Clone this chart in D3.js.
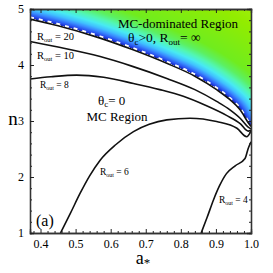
<!DOCTYPE html>
<html>
<head>
<meta charset="utf-8">
<script src="https://cdn.jsdelivr.net/npm/d3@7"></script>
<style>
  body { margin: 0; background: #fff; }
  text { font-family: "Liberation Serif", "Times New Roman", serif; fill: #000; }
</style>
</head>
<body>
<div id="chart"></div>
<script>
// curves: [a*, n]
const rout20 = [[0.37, 4.82], [0.45, 4.70], [0.57, 4.48], [0.66, 4.28], [0.76, 4.03], [0.84, 3.80], [0.902, 3.56], [0.94, 3.38], [0.969, 3.20], [0.992, 2.97], [1.0, 2.90]];
const rout10 = [[0.37, 4.42], [0.45, 4.32], [0.57, 4.15], [0.66, 3.98], [0.76, 3.76], [0.84, 3.56], [0.902, 3.35], [0.94, 3.20], [0.969, 3.05], [0.992, 2.89], [1.0, 2.86]];
const rout8 = [[0.37, 3.75], [0.43, 3.79], [0.503, 3.82], [0.58, 3.78], [0.665, 3.67], [0.74, 3.56], [0.807, 3.44], [0.87, 3.28], [0.93, 3.10], [0.97, 2.95], [0.992, 2.82], [1.0, 2.84]];
const rout6 = [[0.457, 1.0], [0.485, 1.35], [0.513, 1.71], [0.54, 2.02], [0.57, 2.30], [0.615, 2.58], [0.665, 2.81], [0.71, 2.94], [0.76, 3.02], [0.826, 3.05], [0.902, 2.99], [0.96, 2.87], [0.988, 2.72], [1.0, 2.82]];
const rout4 = [[0.858, 1.0], [0.875, 1.28], [0.893, 1.59], [0.91, 1.84], [0.93, 2.06], [0.955, 2.20], [0.983, 2.33], [0.992, 2.51], [1.0, 2.63]];

const xTicks = [0.4, 0.5, 0.6, 0.7, 0.8, 0.9, 1.0];
const yTicks = [1, 2, 3, 4, 5];

const W = 273, H = 273;
const margin = { top: 9, right: 22, bottom: 40, left: 30 };

const x = d3.scaleLinear().domain([0.37, 1.0]).range([margin.left, W - margin.right]);
const y = d3.scaleLinear().domain([1, 5]).range([H - margin.bottom, margin.top]);

const svg = d3.select("#chart").append("svg")
    .attr("width", W).attr("height", H);

const line = d3.line()
    .x(d => x(d[0]))
    .y(d => y(d[1]))
    .curve(d3.curveMonotoneX);

// sample the boundary curve (Rout = 20) to build the colour field above it
const probe = svg.append("path").attr("d", line(rout20)).attr("fill", "none");
const node = probe.node();
const len = node.getTotalLength();
const samples = [];
for (let i = 0; i <= 400; i++) {
    const p = node.getPointAtLength(len * i / 400);
    samples.push([p.x, p.y - 1.5]);
}
probe.remove();

function boundaryY(px) {
    for (let i = 1; i < samples.length; i++) {
        if (samples[i][0] >= px) {
            const a = samples[i - 1], b = samples[i];
            const t = b[0] === a[0] ? 0 : (px - a[0]) / (b[0] - a[0]);
            return a[1] + t * (b[1] - a[1]);
        }
    }
    return samples[samples.length - 1][1];
}

const color = d3.scaleLinear()
    .domain([0, 2, 5, 8, 12, 17, 23, 32, 70, 140])
    .range(["#1c2fcc", "#2a55f0", "#3a8cff", "#40c0ff", "#48eaf2", "#52f6b4", "#5cf062", "#70ec1e", "#92ec00", "#c8f22a"])
    .clamp(true);

const x0 = Math.round(x.range()[0]), x1 = Math.round(x.range()[1]);
const y0 = Math.round(y.range()[1]);
const canvas = document.createElement("canvas");
canvas.width = W; canvas.height = H;
const ctx = canvas.getContext("2d");
const img = ctx.createImageData(W, H);
for (let px = x0; px < x1; px++) {
    const by = boundaryY(px + 0.5);
    for (let py = y0; py < by; py++) {
        let dmin = Infinity;
        for (const s of samples) {
            const dx = s[0] - (px + 0.5), dy = s[1] - (py + 0.5);
            const d = dx * dx + dy * dy;
            if (d < dmin) dmin = d;
        }
        const c = d3.rgb(color(Math.sqrt(dmin)));
        const k = (py * W + px) * 4;
        img.data[k] = c.r; img.data[k + 1] = c.g; img.data[k + 2] = c.b; img.data[k + 3] = 255;
    }
}
ctx.putImageData(img, 0, 0);
svg.append("image")
    .attr("x", 0).attr("y", 0).attr("width", W).attr("height", H)
    .attr("href", canvas.toDataURL());

// white notches between the coloured region and the Rout = 20 line
svg.append("path")
    .attr("d", line(rout20.map(d => [d[0], d[1] + 0.03])))
    .attr("fill", "none")
    .attr("stroke", "#fff")
    .attr("stroke-width", 2.2)
    .attr("stroke-dasharray", "4 5");

svg.append("clipPath").attr("id", "plot")
    .append("rect")
    .attr("x", x.range()[0]).attr("y", y.range()[1])
    .attr("width", x.range()[1] - x.range()[0])
    .attr("height", y.range()[0] - y.range()[1]);

const curves = svg.append("g").attr("clip-path", "url(#plot)");
[rout20, rout10, rout8, rout6, rout4].forEach(c => {
    curves.append("path")
        .attr("d", line(c))
        .attr("fill", "none")
        .attr("stroke", "#111")
        .attr("stroke-width", 1.6);
});

// frame and ticks on all sides, pointing inward
const minorX = d3.range(0.38, 1.0001, 0.02).filter(v => !xTicks.some(t => Math.abs(t - v) < 1e-6));
const minorY = d3.range(1, 5.0001, 0.2).filter(v => !yTicks.some(t => Math.abs(t - v) < 1e-6));

svg.append("g")
    .attr("transform", `translate(0,${y.range()[0]})`)
    .call(d3.axisBottom(x).tickValues(minorX).tickSize(-2).tickFormat(""));
svg.append("g")
    .attr("transform", `translate(0,${y.range()[1]})`)
    .call(d3.axisTop(x).tickValues(minorX).tickSize(-2).tickFormat(""));
svg.append("g")
    .attr("transform", `translate(${x.range()[0]},0)`)
    .call(d3.axisLeft(y).tickValues(minorY).tickSize(-2).tickFormat(""));
svg.append("g")
    .attr("transform", `translate(${x.range()[1]},0)`)
    .call(d3.axisRight(y).tickValues(minorY).tickSize(-2).tickFormat(""));

svg.append("g")
    .attr("class", "x-axis")
    .attr("transform", `translate(0,${y.range()[0]})`)
    .call(d3.axisBottom(x).tickValues(xTicks).tickSize(-4).tickPadding(6).tickFormat(d3.format(".1f")));
svg.append("g")
    .attr("transform", `translate(0,${y.range()[1]})`)
    .call(d3.axisTop(x).tickValues(xTicks).tickSize(-4).tickFormat(""));
svg.append("g")
    .attr("class", "y-axis")
    .attr("transform", `translate(${x.range()[0]},0)`)
    .call(d3.axisLeft(y).tickValues(yTicks).tickSize(-4).tickPadding(6).tickFormat(d3.format("d")));
svg.append("g")
    .attr("transform", `translate(${x.range()[1]},0)`)
    .call(d3.axisRight(y).tickValues(yTicks).tickSize(-4).tickFormat(""));

svg.selectAll(".domain").attr("stroke", "#333").attr("stroke-width", 1.3);
svg.selectAll(".tick line").attr("stroke", "#222").attr("stroke-width", 1);
svg.selectAll(".tick text")
    .style("font-family", "'Liberation Serif', serif")
    .style("font-size", "12px")
    .attr("fill", "#111");

// axis titles
svg.append("text")
    .attr("x", 143).attr("y", 264)
    .attr("text-anchor", "middle")
    .style("font-size", "18px")
    .html('a<tspan dy="3" font-size="13">*</tspan>');
svg.append("text")
    .attr("x", 13).attr("y", 125)
    .attr("text-anchor", "middle")
    .style("font-size", "19px")
    .text("n");

// labels
function routLabel(px, py, value, size) {
    const t = svg.append("text").attr("x", px).attr("y", py).style("font-size", size + "px");
    t.append("tspan").text("R");
    t.append("tspan").attr("dy", 2).style("font-size", (size * 0.62) + "px").text("out");
    t.append("tspan").attr("dy", -2).text(" = " + value);
}
routLabel(37, 40, "20", 10.5);
routLabel(37, 59, "10", 10.5);
routLabel(40, 88, "8", 9.5);
routLabel(100, 175, "6", 9.5);
routLabel(219, 203, "4", 9.5);

svg.append("text")
    .attr("x", 178).attr("y", 28)
    .attr("text-anchor", "middle")
    .style("font-size", "13px")
    .text("MC-dominated Region");

const t2 = svg.append("text").attr("x", 128).attr("y", 42).style("font-size", "13.5px");
t2.append("tspan").text("θ");
t2.append("tspan").attr("dy", 3).style("font-size", "9px").text("c");
t2.append("tspan").attr("dy", -3).text(">0, R");
t2.append("tspan").attr("dy", 3).style("font-size", "9px").text("out");
t2.append("tspan").attr("dy", -3).text("= ∞");

const t3 = svg.append("text").attr("x", 98).attr("y", 105).style("font-size", "13px");
t3.append("tspan").text("θ");
t3.append("tspan").attr("dy", 2).style("font-size", "9px").text("c");
t3.append("tspan").attr("dy", -2).text("= 0");

svg.append("text")
    .attr("x", 117).attr("y", 121)
    .attr("text-anchor", "middle")
    .style("font-size", "13px")
    .text("MC Region");

svg.append("text")
    .attr("x", 36).attr("y", 226)
    .style("font-size", "16px")
    .text("(a)");
</script>
</body>
</html>
